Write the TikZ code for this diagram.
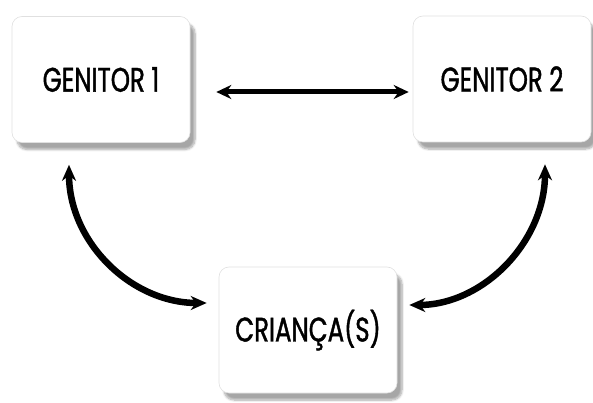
\documentclass[tikz,border=0pt]{standalone}
\usepackage{fontspec}
\setmainfont{Poppins}[FakeStretch=0.72,FakeBold=1.2]
\usetikzlibrary{arrows.meta,shadows.blur}
\tikzset{
  box/.style={draw=black!12, line width=0.6pt, fill=white, rounded corners=10pt,
    minimum width=178pt, minimum height=126pt, inner sep=0pt,
    font=\fontsize{34}{36}\selectfont,
    blur shadow={shadow xshift=5pt, shadow yshift=-7pt, shadow blur steps=8, shadow opacity=35}},
  link/.style={line width=5pt, {Stealth[length=15pt,width=14pt]}-{Stealth[length=15pt,width=14pt]}},
  curlink/.style={line width=6.5pt, {Stealth[length=16pt,width=14pt]}-{Stealth[length=16pt,width=14pt]}}
}
\begin{document}
\begin{tikzpicture}[x=1pt,y=-1pt]
\useasboundingbox (0,0) rectangle (593,403);
\node[box] (g1) at (101,79.5) {GENITOR 1};
\node[box] (g2) at (502,79) {GENITOR 2};
\node[box] (c) at (308,330) {CRIANÇA(S)};
\draw[link] ([xshift=26pt]g1.east |- 0,92) -- ([xshift=-4pt]g2.west |- 0,92);
\draw[curlink] (g1.south -| 69,0) ++(0,22) .. controls (69,242) and (131,303) .. ([xshift=-12pt]c.west |- 0,303);
\draw[curlink] (g2.south -| 545,0) ++(0,22) .. controls (545,242) and (483,305) .. ([xshift=12pt]c.east |- 0,305);
\end{tikzpicture}
\end{document}
